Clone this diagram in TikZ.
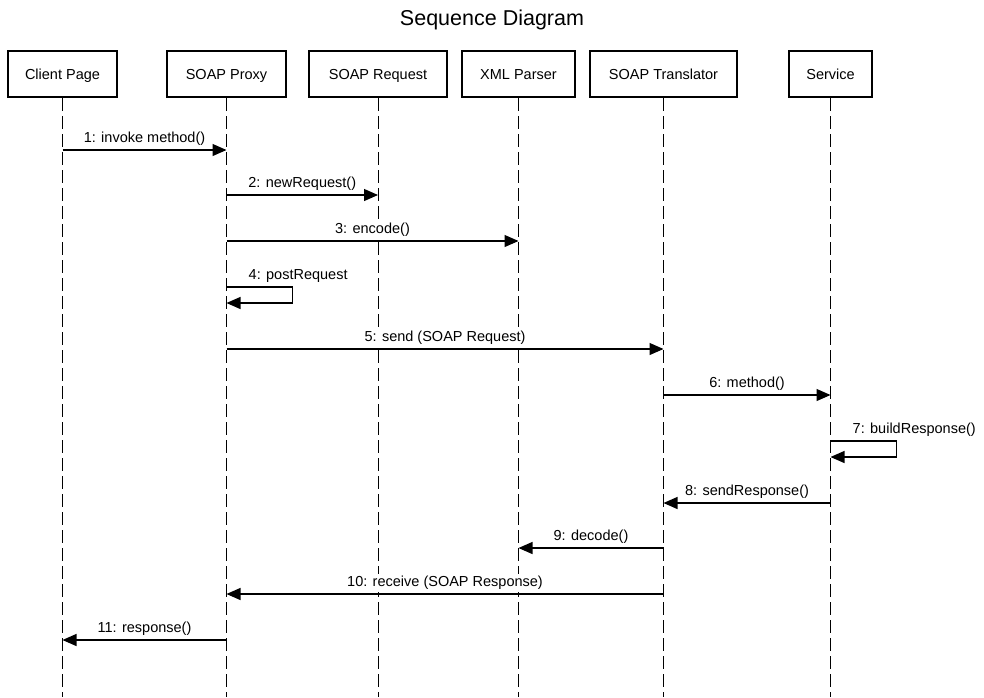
\documentclass[tikz,border=0pt]{standalone}
\usepackage{fontspec}
\setmainfont{Liberation Sans}
\usetikzlibrary{arrows.meta,calc}
\begin{document}
\begin{tikzpicture}[x=1pt,y=-1pt,
 actor/.style={draw,line width=2pt,minimum height=46pt,inner sep=0pt,text height=13pt,text depth=3pt,font=\fontsize{14.5}{16}\selectfont},
 life/.style={line width=1pt,dash pattern=on 13pt off 5pt},
 msg/.style={line width=1.2pt,-{Triangle[length=14pt,width=12pt]}},
 lbl/.style={font=\fontsize{14.5}{16}\selectfont,fill=white,inner xsep=1pt,inner ysep=2pt,text depth=4pt,anchor=base},
 slbl/.style={lbl,anchor=base west}]
\useasboundingbox (0,0) rectangle (984,697);
\node[font=\fontsize{21.5}{24}\selectfont,anchor=base] (title) at (492,25) {Sequence Diagram};
\node[actor,minimum width=109pt] (cp) at (62.5,74) {Client Page};
\node[actor,minimum width=119pt] (px) at (226.5,74) {SOAP Proxy};
\node[actor,minimum width=138pt] (rq) at (378,74) {SOAP Request};
\node[actor,minimum width=113pt] (xp) at (518.5,74) {XML Parser};
\node[actor,minimum width=147pt] (tr) at (663.5,74) {SOAP Translator};
\node[actor,minimum width=83pt] (sv) at (830.5,74) {Service};
\foreach \n in {cp,px,rq,xp,tr,sv}{
  \coordinate (\n E) at (\n.south |- 0,697);
  \draw[life] (\n.south) -- (\n E);
}
% 1
\draw[msg] (cp.south |- 0,150) -- (px.south |- 0,150);
\node[lbl] (l1) at ($(cp.south |- 0,142)!0.5!(px.south |- 0,142)$) {1: invoke method()};
% 2
\draw[msg] (px.south |- 0,195) -- (rq.south |- 0,195);
\node[lbl] (l2) at ($(px.south |- 0,187)!0.5!(rq.south |- 0,187)$) {2: newRequest()};
% 3
\draw[msg] (px.south |- 0,241) -- (xp.south |- 0,241);
\node[lbl] (l3) at ($(px.south |- 0,233)!0.5!(xp.south |- 0,233)$) {3: encode()};
% 4 self
\draw[msg] (px.south |- 0,287) -- ++(66,0) -- ++(0,16) -- (px.south |- 0,303);
\node[slbl] (l4) at ($(px.south |- 0,279)+(21,0)$) {4: postRequest};
% 5
\draw[msg] (px.south |- 0,349) -- (tr.south |- 0,349);
\node[lbl] (l5) at ($(px.south |- 0,341)!0.5!(tr.south |- 0,341)$) {5: send (SOAP Request)};
% 6
\draw[msg] (tr.south |- 0,395) -- (sv.south |- 0,395);
\node[lbl] (l6) at ($(tr.south |- 0,387)!0.5!(sv.south |- 0,387)$) {6: method()};
% 7 self
\draw[msg] (sv.south |- 0,441) -- ++(66,0) -- ++(0,16) -- (sv.south |- 0,457);
\node[slbl] (l7) at ($(sv.south |- 0,433)+(21,0)$) {7: buildResponse()};
% 8
\draw[msg] (sv.south |- 0,503) -- (tr.south |- 0,503);
\node[lbl] (l8) at ($(tr.south |- 0,495)!0.5!(sv.south |- 0,495)$) {8: sendResponse()};
% 9
\draw[msg] (tr.south |- 0,548) -- (xp.south |- 0,548);
\node[lbl] (l9) at ($(xp.south |- 0,540)!0.5!(tr.south |- 0,540)$) {9: decode()};
% 10
\draw[msg] (tr.south |- 0,594) -- (px.south |- 0,594);
\node[lbl] (l10) at ($(px.south |- 0,586)!0.5!(tr.south |- 0,586)$) {10: receive (SOAP Response)};
% 11
\draw[msg] (px.south |- 0,640) -- (cp.south |- 0,640);
\node[lbl] (l11) at ($(cp.south |- 0,632)!0.5!(px.south |- 0,632)$) {11: response()};
\end{tikzpicture}
\end{document}
